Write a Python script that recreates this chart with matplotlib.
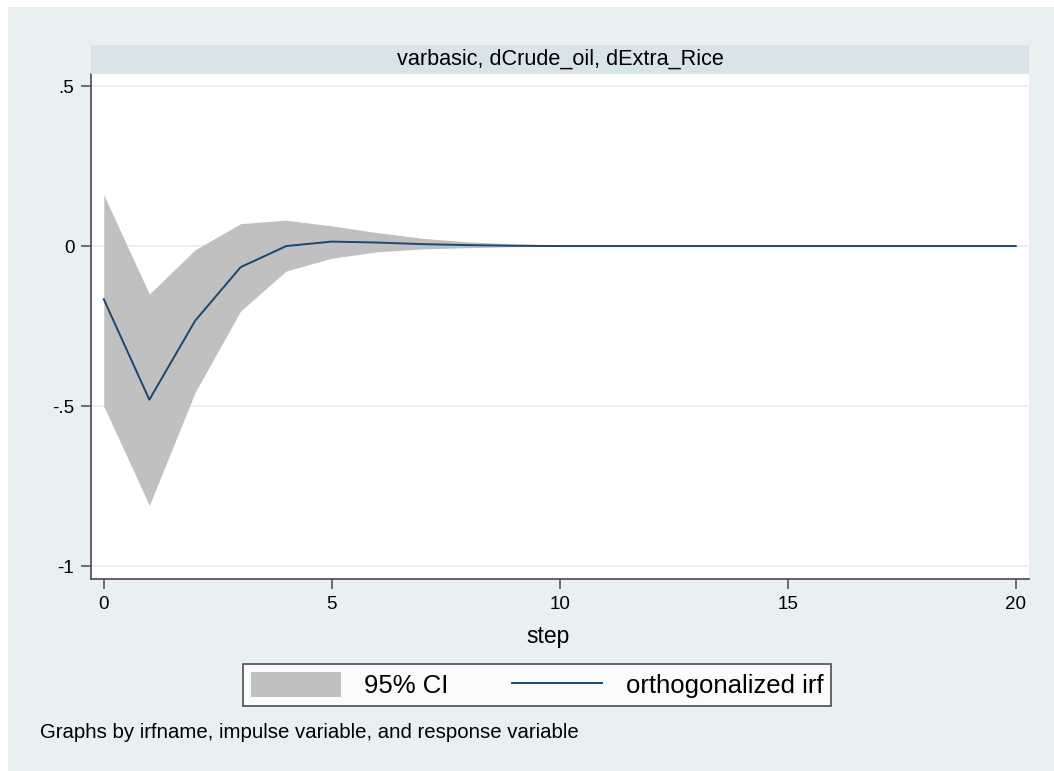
import matplotlib
matplotlib.use("Agg")
import matplotlib.pyplot as plt
from matplotlib.patches import Rectangle

plt.rcParams['font.family'] = ['Liberation Sans', 'DejaVu Sans']

# Orthogonalized impulse response: impulse dCrude_oil, response dExtra_Rice
steps = list(range(0, 21))
oirf = [-0.166, -0.480, -0.234, -0.066, 0.000, 0.014, 0.011, 0.006, 0.003, 0.001,
        0.000, 0.000, 0.000, 0.000, 0.000, 0.000, 0.000, 0.000, 0.000, 0.000, 0.000]
ci_upper = [0.160, -0.150, -0.012, 0.070, 0.081, 0.063, 0.042, 0.024, 0.013, 0.007,
            0.003, 0.002, 0.001, 0.001, 0.000, 0.000, 0.000, 0.000, 0.000, 0.000, 0.000]
ci_lower = [-0.500, -0.810, -0.458, -0.203, -0.078, -0.038, -0.018, -0.009, -0.005, -0.002,
            -0.001, -0.001, 0.000, 0.000, 0.000, 0.000, 0.000, 0.000, 0.000, 0.000, 0.000]

y_ticks = [-1, -0.5, 0, 0.5]
y_labels = ["-1", "-.5", "0", ".5"]
x_ticks = [0, 5, 10, 15, 20]

panel_bg = "#e8f0f2"
strip_bg = "#d8e4ea"
grid_col = "#e6eff2"
navy = "#1a476f"
ci_gray = "#c0c0c0"
axis_col = "#4a4a4a"

W, H = 1054, 771
fig = plt.figure(figsize=(W / 100, H / 100), dpi=100)
fig.patch.set_facecolor("white")

# Graph region background
fig.add_artist(Rectangle((8 / W, 0), 1 - 8 / W, 1 - 7 / H, transform=fig.transFigure,
                         facecolor=panel_bg, edgecolor="none", zorder=0))

# Plot area (pixel coordinates converted to figure fractions)
left, right, top, bottom = 91, 1029, 74, 579
ax = fig.add_axes([left / W, 1 - bottom / H, (right - left) / W, (bottom - top) / H])
ax.set_facecolor("white")

ax.fill_between(steps, ci_lower, ci_upper, color=ci_gray, linewidth=0, label="95% CI", zorder=2)
ax.plot(steps, oirf, color=navy, linewidth=1.4, label="orthogonalized irf", zorder=3)

ax.set_xlim(-0.28, 20.29)
ax.set_ylim(-1.04, 0.5375)
ax.set_yticks(y_ticks)
ax.set_yticklabels(y_labels)
ax.set_xticks(x_ticks)
ax.yaxis.grid(True, color=grid_col, linewidth=1.2, zorder=1)
ax.set_axisbelow(True)

for s in ["top", "right"]:
    ax.spines[s].set_visible(False)
for s in ["left", "bottom"]:
    ax.spines[s].set_color(axis_col)
    ax.spines[s].set_linewidth(1.2)
ax.tick_params(axis="both", direction="out", length=7, width=1.1, color=axis_col,
               labelsize=13.5, labelcolor="black", pad=5)

# Axis title
fig.text(548 / W, 1 - 636 / H, "step", ha="center", va="center", fontsize=16.5)

# Subtitle strip
strip_top = 45
fig.add_artist(Rectangle((left / W, 1 - top / H), (right - left) / W, (top - strip_top) / H,
                         transform=fig.transFigure, facecolor=strip_bg, edgecolor="none", zorder=1))
fig.text((left + right) / 2 / W, 1 - (top + strip_top) / 2 / H,
         "varbasic, dCrude_oil, dExtra_Rice", ha="center", va="center", fontsize=15.6)

# Legend
handles, labels = ax.get_legend_handles_labels()
leg = fig.legend(handles, labels, loc="center", ncol=2,
                 bbox_to_anchor=(537 / W, 1 - 685 / H),
                 fontsize=18.5, frameon=True, fancybox=False,
                 handlelength=3.5, handleheight=1.1, handletextpad=0.9,
                 columnspacing=2.5, borderpad=0.3, borderaxespad=0)
leg.get_frame().set_edgecolor("#222222")
leg.get_frame().set_linewidth(1.2)
leg.get_frame().set_facecolor("white")

fig.text(40 / W, 1 - 733 / H, "Graphs by irfname, impulse variable, and response variable",
         ha="left", va="center", fontsize=14.7)

fig.savefig("out.png", dpi=100, facecolor=fig.get_facecolor())
